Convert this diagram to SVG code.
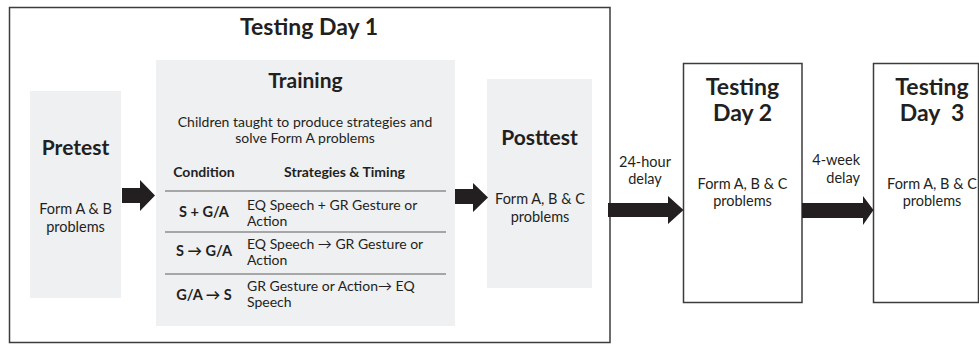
<svg xmlns="http://www.w3.org/2000/svg" width="979" height="344" viewBox="0 0 979 344">
<style>
text{font-family:Lato,"Carlito","Liberation Sans",sans-serif;fill:#231f20}
.h1{font-size:23px;font-weight:bold;text-anchor:middle}
.h2{font-size:21px;font-weight:bold;text-anchor:middle}
.b{font-size:14.5px;text-anchor:middle}
.s{font-size:14px;text-anchor:middle}
.l{font-size:14px}
.th{font-size:14px;font-weight:bold;text-anchor:middle}
.c{font-size:14.5px;font-weight:bold;text-anchor:middle}
.box{fill:#ffffff;stroke:#3c3c3c;stroke-width:1.5}
.grey{fill:#eff0f2}
.rule{stroke:#8e8e8e;stroke-width:1.3}
.arr{fill:#231f20}
</style>
<g id="day1">
<rect class="box" x="9.5" y="7.5" width="600.5" height="335"/>
<text class="h1" x="309" y="35">Testing Day 1</text>
</g>
<g id="pretest">
<rect class="grey" x="30" y="91" width="91" height="207"/>
<text class="h2" x="75.5" y="155">Pretest</text>
<text class="b" x="75.5" y="214">Form A &amp; B</text>
<text class="b" x="75.5" y="232">problems</text>
</g>
<g id="training">
<rect class="grey" x="156" y="60" width="299" height="266"/>
<text class="h2" x="305.5" y="87.5">Training</text>
<text class="s" x="305" y="126.5">Children taught to produce strategies and</text>
<text class="s" x="305" y="142.5">solve Form A problems</text>
<text class="th" x="204" y="177">Condition</text>
<text class="th" x="344.5" y="177">Strategies &amp; Timing</text>
<line class="rule" x1="165" y1="191" x2="446" y2="191"/>
<line class="rule" x1="165" y1="232" x2="446" y2="232"/>
<line class="rule" x1="165" y1="274" x2="446" y2="274"/>
<text class="c" x="204" y="217">S + G/A</text>
<text class="l" x="247" y="209.5">EQ Speech + GR Gesture or</text>
<text class="l" x="247" y="225.5">Action</text>
<text class="c" x="204" y="256">S → G/A</text>
<text class="l" x="247" y="249">EQ Speech → GR Gesture or</text>
<text class="l" x="247" y="265">Action</text>
<text class="c" x="204" y="300">G/A → S</text>
<text class="l" x="247" y="291">GR Gesture or Action→ EQ</text>
<text class="l" x="247" y="307">Speech</text>
</g>
<g id="posttest">
<rect class="grey" x="487" y="79" width="105" height="209"/>
<text class="h2" x="539.5" y="144.5">Posttest</text>
<text class="b" x="540" y="203.5">Form A, B &amp; C</text>
<text class="b" x="540" y="222">problems</text>
</g>
<g id="day2">
<rect class="box" x="683.5" y="63.5" width="118.5" height="239"/>
<text class="h1" x="742.5" y="95">Testing</text>
<text class="h1" x="742.5" y="121">Day 2</text>
<text class="b" x="742.5" y="188.5">Form A, B &amp; C</text>
<text class="b" x="742.5" y="206">problems</text>
</g>
<g id="day3">
<rect class="box" x="873.5" y="63.5" width="105" height="239"/>
<text class="h1" x="932" y="95">Testing</text>
<text class="h1" x="932" y="121" xml:space="preserve">Day  3</text>
<text class="b" x="932" y="188.5">Form A, B &amp; C</text>
<text class="b" x="932" y="206">problems</text>
</g>
<g id="connectors">
<polygon class="arr" points="122,188 140,188 140,180 155,195.5 140,211 140,203 122,203"/>
<polygon class="arr" points="455,189 473,189 473,183 488,197.5 473,212 473,204 455,204"/>
<polygon class="arr" points="608,203 668,203 668,196 683.5,210 668,224 668,217 608,217"/>
<polygon class="arr" points="802,203 863,203 863,196 873.5,210 863,225 863,218 802,218"/>
<text class="b" x="645" y="167">24-hour</text>
<text class="b" x="645" y="184">delay</text>
<text x="860" y="165" font-size="14.5" text-anchor="end">4-week</text>
<text x="860" y="183" font-size="14.5" text-anchor="end">delay</text>
</g>
</svg>
